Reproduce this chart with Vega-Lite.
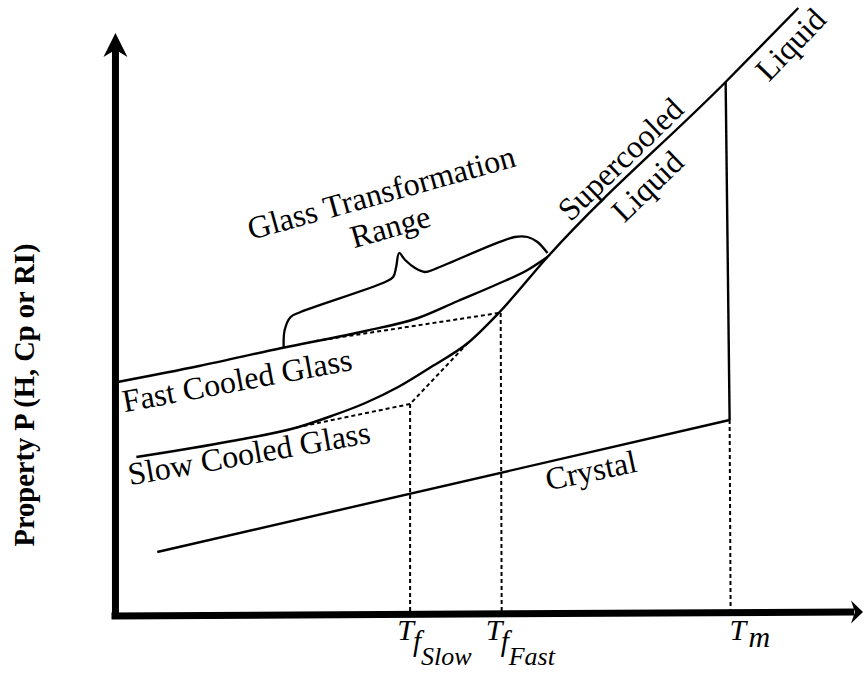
{
  "$schema": "https://vega.github.io/schema/vega-lite/v6.json",
  "width": 868,
  "height": 673,
  "autosize": {"type": "fit", "contains": "padding"},
  "padding": 0,
  "background": "white",
  "config": {"view": {"stroke": null}},
  "encoding": {
    "x": {"field": "x", "type": "quantitative", "scale": {"domain": [-116, 752], "nice": false, "zero": false}, "axis": null},
    "y": {"field": "y", "type": "quantitative", "scale": {"domain": [-59, 614], "nice": false, "zero": false}, "axis": null}
  },
  "layer": [
    {
      "data": {"values": [
        {"s": "yaxis", "i": 0, "x": 0, "y": -4},
        {"s": "yaxis", "i": 1, "x": 0, "y": 566},
        {"s": "xaxis", "i": 0, "x": -4, "y": -2},
        {"s": "xaxis", "i": 1, "x": 742, "y": 2}
      ]},
      "mark": {"type": "line", "color": "black", "strokeWidth": 7, "strokeCap": "butt"},
      "encoding": {"detail": {"field": "s"}, "order": {"field": "i"}}
    },
    {
      "data": {"values": [{"x": 0, "y": 581}]},
      "mark": {"type": "point", "shape": "M0,0L1,2L0,1.4L-1,2Z", "size": 576, "filled": true, "color": "black", "opacity": 1, "strokeWidth": 0}
    },
    {
      "data": {"values": [{"x": 751, "y": 2}]},
      "mark": {"type": "point", "shape": "M0,0L-1,-0.95L-0.67,0L-1,0.95Z", "size": 576, "filled": true, "color": "black", "opacity": 1, "strokeWidth": 0}
    },
    {
      "data": {"values": [
        {"s": "slow", "x": 686, "y": 606},
        {"s": "slow", "x": 613, "y": 532},
        {"s": "slow", "x": 434, "y": 357},
        {"s": "slow", "x": 385, "y": 301},
        {"s": "slow", "x": 354, "y": 271},
        {"s": "slow", "x": 317, "y": 247},
        {"s": "slow", "x": 284, "y": 227},
        {"s": "slow", "x": 251, "y": 211},
        {"s": "slow", "x": 217, "y": 198},
        {"s": "slow", "x": 184, "y": 187},
        {"s": "slow", "x": 117, "y": 173},
        {"s": "slow", "x": 21, "y": 157},
        {"s": "fast", "x": 2, "y": 232},
        {"s": "fast", "x": 84, "y": 248},
        {"s": "fast", "x": 167, "y": 266},
        {"s": "fast", "x": 251, "y": 283},
        {"s": "fast", "x": 304, "y": 296},
        {"s": "fast", "x": 344, "y": 313},
        {"s": "fast", "x": 384, "y": 330},
        {"s": "fast", "x": 414, "y": 344},
        {"s": "fast", "x": 434, "y": 357}
      ]},
      "mark": {"type": "line", "interpolate": "monotone", "color": "black", "strokeWidth": 2.4},
      "encoding": {"detail": {"field": "s"}}
    },
    {
      "data": {"values": [
        {"s": "crystal", "i": 0, "x": 42, "y": 62},
        {"s": "crystal", "i": 1, "x": 617, "y": 194},
        {"s": "tm", "i": 0, "x": 613, "y": 532},
        {"s": "tm", "i": 1, "x": 617, "y": 194}
      ]},
      "mark": {"type": "line", "color": "black", "strokeWidth": 2.4},
      "encoding": {"detail": {"field": "s"}, "order": {"field": "i"}}
    },
    {
      "data": {"values": [
        {"i": 0, "x": 169, "y": 266},
        {"i": 1, "x": 170, "y": 284},
        {"i": 2, "x": 176, "y": 297},
        {"i": 3, "x": 186, "y": 302},
        {"i": 4, "x": 271, "y": 332},
        {"i": 5, "x": 279, "y": 337},
        {"i": 6, "x": 282, "y": 347},
        {"i": 7, "x": 285, "y": 361},
        {"i": 8, "x": 291, "y": 354},
        {"i": 9, "x": 301, "y": 346},
        {"i": 10, "x": 311, "y": 342},
        {"i": 11, "x": 321, "y": 345},
        {"i": 12, "x": 401, "y": 377},
        {"i": 13, "x": 414, "y": 377},
        {"i": 14, "x": 424, "y": 372},
        {"i": 15, "x": 434, "y": 361}
      ]},
      "mark": {"type": "line", "interpolate": "catmull-rom", "color": "black", "strokeWidth": 2.3},
      "encoding": {"order": {"field": "i"}}
    },
    {
      "data": {"values": [
        {"s": "fastExt", "i": 0, "x": 385, "y": 301},
        {"s": "fastExt", "i": 1, "x": 201, "y": 273},
        {"s": "tfFast", "i": 0, "x": 387, "y": 301},
        {"s": "tfFast", "i": 1, "x": 388, "y": 1},
        {"s": "slowExt", "i": 0, "x": 354, "y": 271},
        {"s": "slowExt", "i": 1, "x": 296, "y": 210},
        {"s": "slowExt", "i": 2, "x": 179, "y": 186},
        {"s": "tfSlow", "i": 0, "x": 296, "y": 210},
        {"s": "tfSlow", "i": 1, "x": 296, "y": 1},
        {"s": "tmV", "i": 0, "x": 617, "y": 194},
        {"s": "tmV", "i": 1, "x": 618, "y": 2}
      ]},
      "mark": {"type": "line", "color": "black", "strokeWidth": 2, "strokeDash": [4, 3]},
      "encoding": {"detail": {"field": "s"}, "order": {"field": "i"}}
    },
    {
      "data": {"values": [{"x": -82, "y": 219, "t": "Property P (H, Cp or RI)"}]},
      "mark": {"type": "text", "angle": 270, "align": "center", "baseline": "alphabetic", "font": "Liberation Serif", "fontSize": 28.5, "fontWeight": "bold", "color": "black"},
      "encoding": {"text": {"field": "t"}}
    },
    {
      "data": {"values": [{"x": 270, "y": 411, "t": "Glass Transformation"}]},
      "mark": {"type": "text", "angle": -15.5, "align": "center", "baseline": "alphabetic", "font": "Liberation Serif", "fontSize": 32, "color": "black"},
      "encoding": {"text": {"field": "t"}}
    },
    {
      "data": {"values": [{"x": 279, "y": 377, "t": "Range"}]},
      "mark": {"type": "text", "angle": -16, "align": "center", "baseline": "alphabetic", "font": "Liberation Serif", "fontSize": 32, "color": "black"},
      "encoding": {"text": {"field": "t"}}
    },
    {
      "data": {"values": [{"x": 124, "y": 223, "t": "Fast Cooled Glass"}]},
      "mark": {"type": "text", "angle": -10.5, "align": "center", "baseline": "alphabetic", "font": "Liberation Serif", "fontSize": 32, "color": "black"},
      "encoding": {"text": {"field": "t"}}
    },
    {
      "data": {"values": [{"x": 136, "y": 150, "t": "Slow Cooled Glass"}]},
      "mark": {"type": "text", "angle": -10, "align": "center", "baseline": "alphabetic", "font": "Liberation Serif", "fontSize": 32, "color": "black"},
      "encoding": {"text": {"field": "t"}}
    },
    {
      "data": {"values": [{"x": 480, "y": 133, "t": "Crystal"}]},
      "mark": {"type": "text", "angle": -12, "align": "center", "baseline": "alphabetic", "font": "Liberation Serif", "fontSize": 32, "color": "black"},
      "encoding": {"text": {"field": "t"}}
    },
    {
      "data": {"values": [{"x": 515, "y": 447, "t": "Supercooled"}, {"x": 542, "y": 420, "t": "Liquid"}]},
      "mark": {"type": "text", "angle": -44, "align": "center", "baseline": "alphabetic", "font": "Liberation Serif", "fontSize": 32, "color": "black"},
      "encoding": {"text": {"field": "t"}}
    },
    {
      "data": {"values": [{"x": 686, "y": 562, "t": "Liquid"}]},
      "mark": {"type": "text", "angle": -46, "align": "center", "baseline": "alphabetic", "font": "Liberation Serif", "fontSize": 32, "color": "black"},
      "encoding": {"text": {"field": "t"}}
    },
    {
      "data": {"values": [{"x": 283, "y": -26, "t": "T"}, {"x": 372, "y": -26, "t": "T"}, {"x": 617, "y": -26, "t": "T"}, {"x": 636, "y": -33, "t": "m"}]},
      "mark": {"type": "text", "align": "left", "baseline": "alphabetic", "font": "Liberation Serif", "fontSize": 30, "fontStyle": "italic", "color": "black"},
      "encoding": {"text": {"field": "t"}}
    },
    {
      "data": {"values": [{"x": 299, "y": -37, "t": "f"}, {"x": 387, "y": -37, "t": "f"}]},
      "mark": {"type": "text", "align": "left", "baseline": "alphabetic", "font": "Liberation Serif", "fontSize": 29, "fontStyle": "italic", "color": "black"},
      "encoding": {"text": {"field": "t"}}
    },
    {
      "data": {"values": [{"x": 307, "y": -51, "t": "Slow"}, {"x": 395, "y": -51, "t": "Fast"}]},
      "mark": {"type": "text", "align": "left", "baseline": "alphabetic", "font": "Liberation Serif", "fontSize": 26, "fontStyle": "italic", "color": "black"},
      "encoding": {"text": {"field": "t"}}
    }
  ]
}
